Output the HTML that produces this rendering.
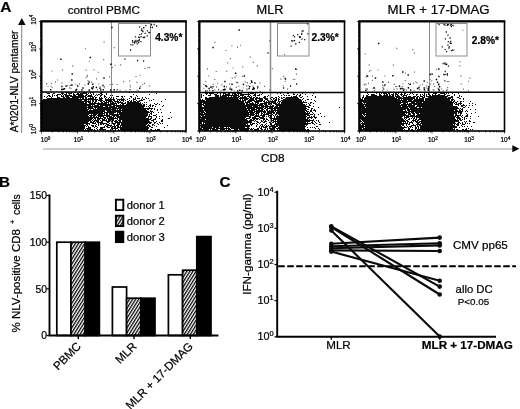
<!DOCTYPE html>
<html lang="en"><head><meta charset="utf-8"><title>Figure</title>
<style>html,body{margin:0;padding:0;background:#fff}body{width:520px;height:409px;overflow:hidden}svg{display:block;font-family:'Liberation Sans', Arial, Helvetica, sans-serif;fill:#000}text{stroke:#000;stroke-width:.22px}</style></head><body>
<svg width="520" height="409" viewBox="0 0 520 409">
<defs><pattern id="hatch" width="2.6" height="2.6" patternUnits="userSpaceOnUse" patternTransform="rotate(-58)"><rect width="2.6" height="2.6" fill="#fff"/><rect width="2.6" height="1.25" fill="#000"/></pattern></defs>
<rect width="520" height="409" fill="#fff"/>
<text x="0.3" y="11.5" font-size="15.5" font-weight="bold">A</text>
<line x1="21.7" y1="24" x2="21.7" y2="133" stroke="#777" stroke-width="0.9"/>
<path d="M18.1 25L25.6 25L21.8 18Z" fill="#0a0a0a"/>
<text x="17.6" y="132.3" font-size="10.2" transform="rotate(-90 17.6 132.3)">A*0201-NLV pentamer</text>
<line x1="43" y1="149" x2="513" y2="149" stroke="#9a9a9a" stroke-width="1.1"/>
<path d="M512.3 145.2L512.3 152.2L519.4 148.7Z" fill="#000"/>
<text x="272.8" y="162.3" font-size="11.8" text-anchor="middle">CD8</text>
<text x="103.8" y="13.9" font-size="11.7" text-anchor="middle">control PBMC</text>
<line x1="111.5" y1="21.5" x2="111.5" y2="131.0" stroke="#8c8c8c" stroke-width="1"/>
<rect x="118.5" y="23.5" width="32.0" height="32.5" fill="none" stroke="#8c8c8c" stroke-width="1"/>
<path d="M46 92.5h1M51 92.5h1M62 92.5h1M65 92.5h4M71 92.5h1M74 92.5h2M79 92.5h1M83 92.5h2M86 92.5h1M90 92.5h1M92 92.5h1M101 92.5h2M129 92.5h1M47 93.5h3M53 93.5h2M61 93.5h3M66 93.5h1M68 93.5h4M73 93.5h1M77 93.5h2M80 93.5h7M88 93.5h1M90 93.5h1M93 93.5h1M100 93.5h2M106 93.5h1M156 93.5h1M52 94.5h1M57 94.5h4M62 94.5h1M64 94.5h3M69 94.5h1M73 94.5h2M76 94.5h7M86 94.5h2M91 94.5h1M93 94.5h1M96 94.5h1M98 94.5h2M101 94.5h2M106 94.5h1M133 94.5h1M149 94.5h1M48 95.5h2M52 95.5h1M54 95.5h1M56 95.5h2M61 95.5h1M63 95.5h1M65 95.5h7M73 95.5h3M78 95.5h6M85 95.5h2M88 95.5h4M95 95.5h1M97 95.5h1M100 95.5h2M104 95.5h1M110 95.5h1M112 95.5h1M136 95.5h1M44 96.5h1M47 96.5h1M49 96.5h2M52 96.5h1M57 96.5h1M61 96.5h3M65 96.5h4M70 96.5h16M87 96.5h6M94 96.5h1M100 96.5h1M104 96.5h2M116 96.5h3M121 96.5h2M124 96.5h1M130 96.5h2M137 96.5h1M46 97.5h1M51 97.5h1M57 97.5h3M63 97.5h2M66 97.5h4M72 97.5h12M85 97.5h2M90 97.5h1M92 97.5h2M95 97.5h2M99 97.5h1M101 97.5h1M104 97.5h1M106 97.5h1M109 97.5h1M111 97.5h1M113 97.5h1M122 97.5h1M131 97.5h1M135 97.5h1M142 97.5h1M145 97.5h1M47 98.5h32M80 98.5h1M82 98.5h2M85 98.5h2M88 98.5h6M95 98.5h1M99 98.5h4M105 98.5h1M108 98.5h1M110 98.5h1M113 98.5h1M116 98.5h1M121 98.5h1M123 98.5h1M129 98.5h1M133 98.5h1M135 98.5h1M137 98.5h3M142 98.5h1M146 98.5h1M148 98.5h1M43 99.5h55M99 99.5h3M105 99.5h10M117 99.5h8M127 99.5h1M133 99.5h3M141 99.5h1M143 99.5h2M153 99.5h1M165 99.5h1M42 100.5h40M84 100.5h3M88 100.5h1M90 100.5h1M92 100.5h2M95 100.5h2M98 100.5h5M105 100.5h7M113 100.5h2M117 100.5h1M119 100.5h1M121 100.5h3M125 100.5h1M129 100.5h1M131 100.5h1M133 100.5h1M136 100.5h1M139 100.5h4M149 100.5h1M151 100.5h1M42 101.5h49M92 101.5h2M95 101.5h2M100 101.5h2M103 101.5h2M106 101.5h1M108 101.5h5M114 101.5h5M120 101.5h1M123 101.5h1M127 101.5h2M130 101.5h2M133 101.5h3M137 101.5h3M161 101.5h1M42 102.5h42M85 102.5h2M88 102.5h3M92 102.5h1M94 102.5h2M98 102.5h1M101 102.5h2M104 102.5h5M110 102.5h1M112 102.5h2M115 102.5h1M117 102.5h6M125 102.5h1M127 102.5h12M140 102.5h1M144 102.5h1M146 102.5h1M42 103.5h45M89 103.5h18M108 103.5h1M110 103.5h7M118 103.5h1M121 103.5h5M127 103.5h14M142 103.5h1M154 103.5h1M157 103.5h1M42 104.5h53M97 104.5h18M116 104.5h1M120 104.5h1M122 104.5h2M126 104.5h16M143 104.5h2M146 104.5h1M150 104.5h1M155 104.5h2M159 104.5h1M42 105.5h49M92 105.5h1M94 105.5h5M100 105.5h11M113 105.5h32M149 105.5h2M152 105.5h2M163 105.5h1M42 106.5h45M88 106.5h15M105 106.5h3M109 106.5h6M116 106.5h29M146 106.5h1M148 106.5h1M150 106.5h1M152 106.5h1M155 106.5h1M162 106.5h1M42 107.5h51M94 107.5h23M118 107.5h26M149 107.5h1M42 108.5h45M88 108.5h6M95 108.5h1M97 108.5h14M112 108.5h41M154 108.5h1M42 109.5h47M90 109.5h1M93 109.5h23M117 109.5h1M119 109.5h2M122 109.5h24M147 109.5h2M151 109.5h1M154 109.5h1M157 109.5h1M160 109.5h1M42 110.5h46M89 110.5h16M106 110.5h5M112 110.5h35M150 110.5h1M157 110.5h1M42 111.5h63M107 111.5h14M122 111.5h27M150 111.5h3M42 112.5h61M104 112.5h12M117 112.5h33M151 112.5h1M153 112.5h1M158 112.5h1M161 112.5h1M170 112.5h1M42 113.5h63M106 113.5h2M109 113.5h5M117 113.5h1M119 113.5h29M150 113.5h2M42 114.5h47M91 114.5h1M93 114.5h4M98 114.5h5M104 114.5h1M106 114.5h2M109 114.5h39M149 114.5h1M151 114.5h1M156 114.5h1M42 115.5h46M89 115.5h7M97 115.5h13M112 115.5h7M120 115.5h28M149 115.5h1M153 115.5h3M42 116.5h47M90 116.5h2M93 116.5h2M96 116.5h1M98 116.5h6M106 116.5h6M113 116.5h2M116 116.5h31M148 116.5h4M156 116.5h1M159 116.5h1M162 116.5h1M42 117.5h57M100 117.5h1M103 117.5h3M107 117.5h1M109 117.5h5M115 117.5h1M117 117.5h29M148 117.5h1M151 117.5h1M156 117.5h1M171 117.5h1M42 118.5h51M94 118.5h2M97 118.5h6M104 118.5h2M107 118.5h11M119 118.5h30M150 118.5h2M155 118.5h1M159 118.5h1M168 118.5h2M42 119.5h50M93 119.5h1M95 119.5h1M97 119.5h3M102 119.5h3M106 119.5h1M108 119.5h6M117 119.5h1M119 119.5h32M153 119.5h3M162 119.5h1M42 120.5h49M92 120.5h1M94 120.5h5M100 120.5h1M102 120.5h5M108 120.5h3M112 120.5h2M115 120.5h2M118 120.5h3M122 120.5h27M151 120.5h3M161 120.5h2M42 121.5h47M90 121.5h2M93 121.5h2M96 121.5h3M101 121.5h2M106 121.5h4M111 121.5h2M114 121.5h4M119 121.5h2M122 121.5h28M153 121.5h1M156 121.5h1M161 121.5h2M42 122.5h46M90 122.5h4M95 122.5h1M97 122.5h6M107 122.5h2M112 122.5h1M115 122.5h37M154 122.5h2M159 122.5h1M42 123.5h48M92 123.5h4M98 123.5h1M100 123.5h7M109 123.5h1M112 123.5h4M117 123.5h3M121 123.5h27M149 123.5h2M154 123.5h1M157 123.5h1M160 123.5h1M162 123.5h1M42 124.5h42M86 124.5h2M89 124.5h1M96 124.5h1M98 124.5h1M100 124.5h2M103 124.5h1M106 124.5h3M113 124.5h2M117 124.5h3M121 124.5h26M148 124.5h1M152 124.5h2M158 124.5h1M42 125.5h44M87 125.5h1M91 125.5h3M95 125.5h1M98 125.5h1M105 125.5h1M107 125.5h5M114 125.5h1M116 125.5h3M120 125.5h26M147 125.5h3M152 125.5h1M154 125.5h1M167 125.5h1M42 126.5h43M86 126.5h1M88 126.5h1M92 126.5h2M95 126.5h2M104 126.5h1M106 126.5h2M110 126.5h1M112 126.5h4M117 126.5h2M120 126.5h1M122 126.5h26M149 126.5h2M156 126.5h1M42 127.5h43M88 127.5h3M94 127.5h1M97 127.5h1M100 127.5h5M107 127.5h3M111 127.5h2M114 127.5h2M117 127.5h32M151 127.5h2M164 127.5h1M42 128.5h43M86 128.5h5M96 128.5h1M100 128.5h3M111 128.5h7M120 128.5h29M42 129.5h42M85 129.5h1M87 129.5h6M94 129.5h1M97 129.5h1M99 129.5h7M110 129.5h1M112 129.5h1M115 129.5h1M118 129.5h1M120 129.5h28M150 129.5h2M155 129.5h1M157 129.5h3M42 130.5h50M93 130.5h3M97 130.5h1M100 130.5h1M103 130.5h1M107 130.5h2M110 130.5h2M113 130.5h3M118 130.5h2M121 130.5h27M151 130.5h9" stroke="#0c0c0c" stroke-width="1" fill="none" shape-rendering="crispEdges"/>
<path d="M129.7 85.2h1M99.6 86.8h1M51.6 87.5h1M88.5 89.7h1M51.1 83.5h1M91.2 82.3h1M139.4 75.2h1M86.8 76.4h1M116.4 89.9h1M103.8 86.5h1M137.5 90.2h1M116.6 84.5h1M69.6 85.6h1M136.7 90.2h1M119.6 90.5h1M98.3 84.0h1M67.1 85.6h1M129.8 86.9h1M61.5 82.9h1M92.6 87.9h1M70.5 88.3h1M129.2 81.1h1M47.5 86.5h1M54.9 81.8h1M84.3 85.0h1M87.5 80.6h1M103.8 87.7h1M123.1 81.6h1M117.2 89.6h1M69.1 87.8h1M57.1 80.0h1M112.1 84.1h1M129.0 89.7h1M86.6 75.2h1M85.6 70.1h1M109.7 84.5h1M149.1 67.4h1M130.1 89.7h1M120.1 64.8h1M87.7 84.2h1M95.9 78.9h1M79.0 83.9h1M46.1 83.8h1M111.7 67.4h1M142.1 84.7h1M148.8 85.8h1M139.9 86.4h1M92.2 88.0h1M61.9 69.8h1M75.4 84.2h1M109.1 76.9h1M144.5 68.4h1M97.0 89.8h1M46.3 83.5h1M147.4 67.9h1M97.8 72.2h1M143.9 83.4h1M136.5 82.3h1M113.7 47.6h1M103.2 59.6h1M125.5 90.2h1M50.5 86.2h1M70.4 85.3h1M51.6 71.0h1M114.5 65.2h1M85.8 77.5h1M93.5 69.9h1M135.5 76.5h1M88.8 61.2h1M84.9 48.7h1M72.3 65.8h1M103.6 42.1h1" stroke="#5a5a5a" stroke-width="1.15" fill="none"/>
<path d="M91.0 88.1h1.4M88.7 90.3h1.4M62.5 89.2h1.4M87.7 83.7h1.4M61.2 86.5h1.4M88.5 82.1h1.4M102.3 85.5h1.4M92.7 86.8h1.4M95.7 87.6h1.4M92.1 84.3h1.4M71.1 80.0h1.4M103.3 77.9h1.4M77.0 86.0h1.4M75.2 90.3h1.4M61.0 89.5h1.4M110.0 90.0h1.4M100.0 90.0h1.4M63.8 88.8h1.4M99.3 88.3h1.4M91.8 88.7h1.4M75.9 89.4h1.4M113.5 89.8h1.4M102.5 89.8h1.4M71.2 85.0h1.4M65.4 86.0h1.4M81.2 90.0h1.4M50.0 89.8h1.4M71.5 74.0h1.4M110.2 64.2h1.4M139.0 88.2h1.4M111.2 27.5h1.4M60.2 59.3h1.4M89.6 57.5h1.4M82.3 88.1h1.4" stroke="#000" stroke-width="1.5" fill="none"/>
<path d="M146.7 35.9h1.2M150.0 27.3h1.2M141.1 28.8h1.2M139.0 26.8h1.2M145.2 25.7h1.2M137.3 40.7h1.2M142.1 31.0h1.2M143.4 37.5h1.2M143.3 27.8h1.2M138.5 40.9h1.2M132.1 42.1h1.2M138.0 37.1h1.2M142.6 37.3h1.2M148.3 32.6h1.2M138.7 39.7h1.2M140.3 41.7h1.2M132.2 44.9h1.2M142.3 31.6h1.2M150.9 24.5h1.2M139.0 37.7h1.2M136.4 41.8h1.2M140.5 36.6h1.2M130.0 50.0h1.2M139.2 34.7h1.2M143.0 27.7h1.2M136.6 43.9h1.2M133.9 43.2h1.2M138.0 42.6h1.2M135.5 41.9h1.2M144.5 33.3h1.2M131.9 40.7h1.2M133.7 42.3h1.2M124.3 59.2h1.2M146.9 30.8h1.2M150.6 24.9h1.2M134.2 41.5h1.2M135.3 40.4h1.2M140.9 33.9h1.2M144.1 37.2h1.2M149.2 32.5h1.2M140.9 30.4h1.2M134.9 36.9h1.2M130.3 44.7h1.2M153.5 24.5h1.2M156.0 26.0h1.2M151.8 27.5h1.2M137.0 60.5h1.2M143.0 61.0h1.2" stroke="#111" stroke-width="1.3" fill="none"/>
<line x1="41.5" y1="92" x2="186.0" y2="92" stroke="#000" stroke-width="1.5"/>
<rect x="41.5" y="21.5" width="144.5" height="109.5" fill="none" stroke="#000" stroke-width="1.6"/>
<path d="M41.5 131.0v2.4M41.5 131.0h-2.4M52.4 131.0v1.4M41.5 122.8h-1.4M58.7 131.0v1.4M41.5 117.9h-1.4M63.2 131.0v1.4M41.5 114.5h-1.4M66.8 131.0v1.4M41.5 111.9h-1.4M69.6 131.0v1.4M41.5 109.7h-1.4M72.0 131.0v1.4M41.5 107.9h-1.4M74.1 131.0v1.4M41.5 106.3h-1.4M76.0 131.0v1.4M41.5 104.9h-1.4M77.6 131.0v2.4M41.5 103.6h-2.4M88.5 131.0v1.4M41.5 95.4h-1.4M94.9 131.0v1.4M41.5 90.6h-1.4M99.4 131.0v1.4M41.5 87.1h-1.4M102.9 131.0v1.4M41.5 84.5h-1.4M105.7 131.0v1.4M41.5 82.3h-1.4M108.2 131.0v1.4M41.5 80.5h-1.4M110.2 131.0v1.4M41.5 78.9h-1.4M112.1 131.0v1.4M41.5 77.5h-1.4M113.8 131.0v2.4M41.5 76.2h-2.4M124.6 131.0v1.4M41.5 68.0h-1.4M131.0 131.0v1.4M41.5 63.2h-1.4M135.5 131.0v1.4M41.5 59.8h-1.4M139.0 131.0v1.4M41.5 57.1h-1.4M141.9 131.0v1.4M41.5 54.9h-1.4M144.3 131.0v1.4M41.5 53.1h-1.4M146.4 131.0v1.4M41.5 51.5h-1.4M148.2 131.0v1.4M41.5 50.1h-1.4M149.9 131.0v2.4M41.5 48.9h-2.4M160.7 131.0v1.4M41.5 40.6h-1.4M167.1 131.0v1.4M41.5 35.8h-1.4M171.6 131.0v1.4M41.5 32.4h-1.4M175.1 131.0v1.4M41.5 29.7h-1.4M178.0 131.0v1.4M41.5 27.6h-1.4M180.4 131.0v1.4M41.5 25.7h-1.4M182.5 131.0v1.4M41.5 24.2h-1.4M184.3 131.0v1.4M41.5 22.8h-1.4M186.0 131.0v2.4M41.5 21.5h-2.4" stroke="#000" stroke-width="0.8" fill="none"/>
<path d="M41.3 131.6V21.3H186.8" stroke="#000" stroke-width="2" fill="none"/>
<text x="155.2" y="41" font-size="10.2" font-weight="bold">4.3%*</text>
<text x="45.5" y="142.2" font-size="6.4" text-anchor="middle">10<tspan dy="-2.6" font-size="4.608">0</tspan></text>
<text x="35.9" y="134.2" font-size="6.6" text-anchor="start" transform="rotate(-90 35.9 134.2)">10<tspan dy="-2.6" font-size="4.752">0</tspan></text>
<text x="78.5" y="142.2" font-size="6.4" text-anchor="middle">10<tspan dy="-2.6" font-size="4.608">1</tspan></text>
<text x="35.9" y="106.8" font-size="6.6" text-anchor="start" transform="rotate(-90 35.9 106.8)">10<tspan dy="-2.6" font-size="4.752">1</tspan></text>
<text x="114.7" y="142.2" font-size="6.4" text-anchor="middle">10<tspan dy="-2.6" font-size="4.608">2</tspan></text>
<text x="35.9" y="79.5" font-size="6.6" text-anchor="start" transform="rotate(-90 35.9 79.5)">10<tspan dy="-2.6" font-size="4.752">2</tspan></text>
<text x="150.8" y="142.2" font-size="6.4" text-anchor="middle">10<tspan dy="-2.6" font-size="4.608">3</tspan></text>
<text x="35.9" y="52.1" font-size="6.6" text-anchor="start" transform="rotate(-90 35.9 52.1)">10<tspan dy="-2.6" font-size="4.752">3</tspan></text>
<text x="186.9" y="142.2" font-size="6.4" text-anchor="middle">10<tspan dy="-2.6" font-size="4.608">4</tspan></text>
<text x="35.9" y="24.7" font-size="6.6" text-anchor="start" transform="rotate(-90 35.9 24.7)">10<tspan dy="-2.6" font-size="4.752">4</tspan></text>
<text x="270" y="14.3" font-size="12.8" text-anchor="middle">MLR</text>
<line x1="270.5" y1="21.5" x2="270.5" y2="131.0" stroke="#8c8c8c" stroke-width="1.5"/>
<rect x="277.5" y="23.5" width="31.5" height="32.5" fill="none" stroke="#8c8c8c" stroke-width="1"/>
<path d="M205 93.5h3M209 93.5h5M217 93.5h1M220 93.5h1M223 93.5h3M228 93.5h2M232 93.5h4M237 93.5h5M248 93.5h1M250 93.5h4M255 93.5h1M262 93.5h1M277 93.5h1M280 93.5h1M287 93.5h2M293 93.5h1M302 93.5h1M313 93.5h1M201 94.5h1M206 94.5h1M210 94.5h1M214 94.5h3M220 94.5h1M223 94.5h1M225 94.5h5M232 94.5h1M234 94.5h3M238 94.5h1M240 94.5h10M254 94.5h2M259 94.5h1M261 94.5h1M283 94.5h1M293 94.5h2M297 94.5h1M300 94.5h1M305 94.5h1M201 95.5h1M203 95.5h1M208 95.5h3M215 95.5h4M220 95.5h1M222 95.5h17M240 95.5h4M248 95.5h1M250 95.5h1M253 95.5h3M257 95.5h3M268 95.5h1M281 95.5h1M284 95.5h1M286 95.5h1M288 95.5h2M296 95.5h1M299 95.5h2M312 95.5h1M201 96.5h1M215 96.5h4M220 96.5h7M228 96.5h1M231 96.5h1M233 96.5h4M238 96.5h2M242 96.5h1M244 96.5h2M247 96.5h3M251 96.5h1M255 96.5h1M264 96.5h2M267 96.5h1M278 96.5h1M291 96.5h1M293 96.5h4M299 96.5h1M302 96.5h1M307 96.5h1M315 96.5h1M201 97.5h1M205 97.5h2M209 97.5h30M240 97.5h7M249 97.5h3M253 97.5h2M256 97.5h2M259 97.5h1M263 97.5h3M271 97.5h2M275 97.5h2M279 97.5h1M281 97.5h1M283 97.5h2M286 97.5h12M300 97.5h2M315 97.5h1M205 98.5h33M239 98.5h10M250 98.5h4M255 98.5h8M264 98.5h4M270 98.5h1M273 98.5h2M276 98.5h1M278 98.5h1M281 98.5h2M285 98.5h14M303 98.5h1M200 99.5h1M202 99.5h1M205 99.5h34M240 99.5h1M242 99.5h1M244 99.5h4M249 99.5h5M255 99.5h2M259 99.5h4M265 99.5h3M271 99.5h1M273 99.5h1M275 99.5h2M278 99.5h2M283 99.5h18M302 99.5h1M307 99.5h2M311 99.5h1M200 100.5h5M206 100.5h35M242 100.5h4M248 100.5h7M256 100.5h7M264 100.5h1M267 100.5h2M272 100.5h1M274 100.5h3M278 100.5h1M281 100.5h21M305 100.5h1M314 100.5h1M200 101.5h44M245 101.5h1M247 101.5h5M254 101.5h8M263 101.5h2M266 101.5h1M268 101.5h8M278 101.5h3M282 101.5h20M303 101.5h1M315 101.5h1M200 102.5h44M245 102.5h5M252 102.5h1M255 102.5h4M264 102.5h6M271 102.5h5M277 102.5h1M279 102.5h1M281 102.5h26M310 102.5h2M200 103.5h2M203 103.5h42M246 103.5h2M249 103.5h5M255 103.5h1M257 103.5h2M260 103.5h7M268 103.5h4M273 103.5h4M278 103.5h2M281 103.5h22M308 103.5h1M310 103.5h1M313 103.5h1M200 104.5h4M205 104.5h40M246 104.5h12M259 104.5h4M264 104.5h3M268 104.5h2M271 104.5h1M275 104.5h30M306 104.5h1M309 104.5h1M200 105.5h2M203 105.5h61M265 105.5h3M270 105.5h1M272 105.5h2M276 105.5h30M309 105.5h2M200 106.5h2M204 106.5h48M253 106.5h5M259 106.5h1M261 106.5h13M275 106.5h3M279 106.5h30M313 106.5h1M200 107.5h46M247 107.5h17M265 107.5h3M269 107.5h4M274 107.5h32M308 107.5h2M318 107.5h1M339 107.5h1M200 108.5h55M256 108.5h7M264 108.5h2M267 108.5h40M311 108.5h2M200 109.5h3M204 109.5h43M248 109.5h2M251 109.5h6M258 109.5h2M261 109.5h3M266 109.5h2M271 109.5h2M274 109.5h2M277 109.5h29M307 109.5h2M311 109.5h1M314 109.5h1M200 110.5h55M256 110.5h7M264 110.5h1M266 110.5h2M269 110.5h1M271 110.5h36M310 110.5h2M313 110.5h3M200 111.5h4M205 111.5h43M249 111.5h4M254 111.5h12M267 111.5h7M275 111.5h1M277 111.5h28M306 111.5h3M310 111.5h2M315 111.5h1M201 112.5h4M206 112.5h49M256 112.5h4M261 112.5h1M263 112.5h3M267 112.5h8M276 112.5h30M307 112.5h1M309 112.5h1M312 112.5h1M200 113.5h3M204 113.5h45M250 113.5h4M255 113.5h4M261 113.5h2M264 113.5h1M266 113.5h6M273 113.5h2M276 113.5h34M313 113.5h1M320 113.5h1M200 114.5h55M256 114.5h1M258 114.5h1M261 114.5h1M263 114.5h6M271 114.5h2M275 114.5h2M278 114.5h31M310 114.5h3M314 114.5h1M318 114.5h1M201 115.5h3M205 115.5h44M250 115.5h4M255 115.5h4M260 115.5h5M268 115.5h4M273 115.5h1M275 115.5h1M277 115.5h1M279 115.5h27M307 115.5h3M314 115.5h1M200 116.5h1M202 116.5h49M254 116.5h6M262 116.5h3M266 116.5h1M268 116.5h1M270 116.5h2M274 116.5h1M276 116.5h31M309 116.5h1M311 116.5h1M313 116.5h2M321 116.5h1M324 116.5h1M200 117.5h46M249 117.5h2M252 117.5h4M259 117.5h5M269 117.5h3M274 117.5h1M276 117.5h30M307 117.5h6M314 117.5h3M201 118.5h44M246 118.5h4M252 118.5h7M260 118.5h5M266 118.5h1M270 118.5h36M307 118.5h2M311 118.5h1M315 118.5h1M200 119.5h5M206 119.5h41M250 119.5h2M253 119.5h2M256 119.5h2M259 119.5h1M263 119.5h2M266 119.5h2M271 119.5h1M273 119.5h35M309 119.5h1M313 119.5h1M200 120.5h48M249 120.5h5M255 120.5h1M261 120.5h1M263 120.5h1M265 120.5h1M268 120.5h1M271 120.5h3M275 120.5h1M277 120.5h37M316 120.5h1M318 120.5h1M200 121.5h52M254 121.5h1M256 121.5h2M261 121.5h2M264 121.5h3M271 121.5h1M273 121.5h37M312 121.5h1M314 121.5h1M318 121.5h1M200 122.5h2M203 122.5h49M257 122.5h2M260 122.5h1M263 122.5h2M269 122.5h2M272 122.5h2M275 122.5h1M277 122.5h29M307 122.5h1M311 122.5h2M315 122.5h1M319 122.5h1M329 122.5h1M200 123.5h2M203 123.5h1M205 123.5h43M250 123.5h1M252 123.5h3M256 123.5h1M259 123.5h1M266 123.5h1M270 123.5h2M275 123.5h36M312 123.5h2M316 123.5h1M201 124.5h45M247 124.5h1M250 124.5h3M257 124.5h1M261 124.5h2M265 124.5h1M270 124.5h2M274 124.5h34M314 124.5h1M319 124.5h2M200 125.5h50M251 125.5h1M256 125.5h1M260 125.5h1M262 125.5h1M264 125.5h1M266 125.5h1M268 125.5h1M271 125.5h4M276 125.5h29M306 125.5h1M201 126.5h49M256 126.5h1M259 126.5h1M261 126.5h3M265 126.5h3M269 126.5h9M279 126.5h27M316 126.5h2M201 127.5h11M213 127.5h6M220 127.5h4M226 127.5h1M228 127.5h1M230 127.5h15M247 127.5h2M259 127.5h1M261 127.5h1M263 127.5h4M269 127.5h1M272 127.5h4M278 127.5h27M307 127.5h1M310 127.5h1M312 127.5h1M314 127.5h1M200 128.5h2M203 128.5h12M216 128.5h14M231 128.5h19M251 128.5h1M253 128.5h1M257 128.5h2M260 128.5h2M265 128.5h1M267 128.5h1M269 128.5h6M276 128.5h29M315 128.5h1M318 128.5h1M200 129.5h9M210 129.5h1M212 129.5h6M220 129.5h5M226 129.5h1M228 129.5h3M234 129.5h4M239 129.5h10M250 129.5h3M254 129.5h5M261 129.5h2M264 129.5h2M267 129.5h1M270 129.5h5M277 129.5h1M279 129.5h27M307 129.5h2M319 129.5h1M200 130.5h1M202 130.5h1M204 130.5h5M210 130.5h9M220 130.5h1M222 130.5h1M225 130.5h4M230 130.5h1M232 130.5h7M240 130.5h9M254 130.5h3M258 130.5h3M264 130.5h1M266 130.5h1M268 130.5h4M273 130.5h2M277 130.5h33M323 130.5h1" stroke="#0c0c0c" stroke-width="1" fill="none" shape-rendering="crispEdges"/>
<path d="M218.1 89.8h1M221.4 84.9h1M205.3 81.5h1M218.1 89.2h1M249.7 83.5h1M257.0 88.6h1M206.9 90.9h1M225.4 50.5h1M246.8 82.6h1M230.7 89.0h1M256.8 65.9h1M210.5 86.8h1M241.9 76.5h1M259.7 91.1h1M214.2 79.5h1M235.5 76.0h1M235.8 87.3h1M217.1 83.2h1M237.4 82.8h1M214.2 89.8h1M223.9 86.3h1M229.7 87.2h1M244.7 81.9h1M203.4 84.5h1M208.3 76.0h1M231.7 78.1h1M215.7 71.5h1M252.5 86.1h1M212.7 84.4h1M211.8 88.5h1M253.2 88.8h1M227.3 62.9h1M226.1 86.9h1M209.3 90.9h1M242.6 88.0h1M259.4 82.8h1M237.0 47.1h1M220.6 90.9h1M216.0 86.8h1M212.0 86.8h1M246.5 88.7h1M223.2 89.6h1M234.4 77.6h1M252.8 62.3h1M238.5 86.2h1M233.7 90.7h1M236.6 82.4h1M246.0 86.1h1M229.1 84.1h1M203.4 88.2h1M295.9 74.1h1M283.3 76.4h1M207.0 68.8h1M264.1 86.3h1M249.6 57.1h1M209.0 90.3h1M213.0 86.6h1M284.9 81.2h1M214.4 42.4h1M287.1 89.1h1M280.3 79.1h1M294.5 79.2h1M282.8 85.7h1M235.9 82.4h1M242.2 66.8h1M226.3 71.4h1M269.1 40.8h1M271.8 68.6h1M247.6 85.7h1M284.0 54.7h1M231.4 45.7h1M232.6 68.0h1M240.1 45.2h1M269.4 89.8h1M292.9 79.5h1M246.5 89.9h1M229.8 58.6h1M246.9 83.0h1" stroke="#5a5a5a" stroke-width="1.15" fill="none"/>
<path d="M223.6 86.6h1.4M224.1 89.8h1.4M252.1 89.2h1.4M243.6 76.1h1.4M231.3 84.3h1.4M205.9 86.4h1.4M229.3 89.0h1.4M205.1 90.9h1.4M231.0 89.7h1.4M222.7 89.8h1.4M224.3 81.6h1.4M248.4 88.6h1.4M205.1 85.7h1.4M230.9 89.4h1.4M234.9 73.3h1.4M241.5 90.7h1.4M257.0 87.0h1.4M237.0 90.9h1.4M252.9 87.7h1.4M208.4 88.5h1.4M239.1 90.2h1.4M249.0 86.6h1.4M254.2 83.1h1.4M210.3 87.3h1.4M253.4 88.8h1.4M212.4 47.4h1.4M251.2 82.3h1.4M224.3 89.3h1.4M212.2 90.8h1.4M238.5 29.9h1.4M242.8 84.4h1.4M250.8 80.9h1.4" stroke="#000" stroke-width="1.5" fill="none"/>
<path d="M292.3 40.8h1.2M301.1 33.4h1.2M298.8 36.7h1.2M297.1 34.6h1.2M299.6 36.8h1.2M301.1 34.4h1.2M292.8 35.6h1.2M294.0 36.9h1.2M302.6 30.9h1.2M299.2 37.4h1.2M307.2 33.8h1.2M291.4 40.9h1.2M293.9 40.6h1.2M304.1 39.7h1.2M299.8 37.1h1.2M295.2 44.0h1.2M290.5 46.1h1.2M301.5 31.2h1.2M306.9 23.9h1.2M298.7 42.3h1.2M301.5 39.1h1.2M291.0 40.9h1.2M295.0 69.0h1.2M295.6 69.4h1.2M284.5 78.5h1.2M285.0 79.0h1.2M267.5 53.0h1.2M290.0 86.0h1.2M296.0 84.0h1.2M283.0 88.0h1.2" stroke="#111" stroke-width="1.3" fill="none"/>
<line x1="199.5" y1="92.6" x2="344.5" y2="92.6" stroke="#000" stroke-width="1.5"/>
<rect x="199.5" y="21.5" width="145.0" height="109.5" fill="none" stroke="#000" stroke-width="1.6"/>
<path d="M199.5 131.0v2.4M199.5 131.0h-2.4M210.4 131.0v1.4M199.5 122.8h-1.4M216.8 131.0v1.4M199.5 117.9h-1.4M221.3 131.0v1.4M199.5 114.5h-1.4M224.8 131.0v1.4M199.5 111.9h-1.4M227.7 131.0v1.4M199.5 109.7h-1.4M230.1 131.0v1.4M199.5 107.9h-1.4M232.2 131.0v1.4M199.5 106.3h-1.4M234.1 131.0v1.4M199.5 104.9h-1.4M235.8 131.0v2.4M199.5 103.6h-2.4M246.7 131.0v1.4M199.5 95.4h-1.4M253.0 131.0v1.4M199.5 90.6h-1.4M257.6 131.0v1.4M199.5 87.1h-1.4M261.1 131.0v1.4M199.5 84.5h-1.4M264.0 131.0v1.4M199.5 82.3h-1.4M266.4 131.0v1.4M199.5 80.5h-1.4M268.5 131.0v1.4M199.5 78.9h-1.4M270.3 131.0v1.4M199.5 77.5h-1.4M272.0 131.0v2.4M199.5 76.2h-2.4M282.9 131.0v1.4M199.5 68.0h-1.4M289.3 131.0v1.4M199.5 63.2h-1.4M293.8 131.0v1.4M199.5 59.8h-1.4M297.3 131.0v1.4M199.5 57.1h-1.4M300.2 131.0v1.4M199.5 54.9h-1.4M302.6 131.0v1.4M199.5 53.1h-1.4M304.7 131.0v1.4M199.5 51.5h-1.4M306.6 131.0v1.4M199.5 50.1h-1.4M308.2 131.0v2.4M199.5 48.9h-2.4M319.2 131.0v1.4M199.5 40.6h-1.4M325.5 131.0v1.4M199.5 35.8h-1.4M330.1 131.0v1.4M199.5 32.4h-1.4M333.6 131.0v1.4M199.5 29.7h-1.4M336.5 131.0v1.4M199.5 27.6h-1.4M338.9 131.0v1.4M199.5 25.7h-1.4M341.0 131.0v1.4M199.5 24.2h-1.4M342.8 131.0v1.4M199.5 22.8h-1.4M344.5 131.0v2.4M199.5 21.5h-2.4" stroke="#000" stroke-width="0.8" fill="none"/>
<path d="M199.3 131.6V21.3H345.3" stroke="#000" stroke-width="2" fill="none"/>
<text x="311.5" y="40.5" font-size="10.2" font-weight="bold">2.3%*</text>
<text x="200.9" y="142.2" font-size="6.4" text-anchor="middle">10<tspan dy="-2.6" font-size="4.608">0</tspan></text>
<text x="236.7" y="142.2" font-size="6.4" text-anchor="middle">10<tspan dy="-2.6" font-size="4.608">1</tspan></text>
<text x="272.9" y="142.2" font-size="6.4" text-anchor="middle">10<tspan dy="-2.6" font-size="4.608">2</tspan></text>
<text x="309.1" y="142.2" font-size="6.4" text-anchor="middle">10<tspan dy="-2.6" font-size="4.608">3</tspan></text>
<text x="345.4" y="142.2" font-size="6.4" text-anchor="middle">10<tspan dy="-2.6" font-size="4.608">4</tspan></text>
<text x="438.6" y="13.6" font-size="13.25" text-anchor="middle">MLR + 17-DMAG</text>
<line x1="429.5" y1="21.5" x2="429.5" y2="131.0" stroke="#8c8c8c" stroke-width="1"/>
<rect x="436" y="23.5" width="31" height="32.5" fill="none" stroke="#8c8c8c" stroke-width="1"/>
<path d="M364 92.5h1M367 92.5h2M372 92.5h1M380 92.5h1M382 92.5h4M387 92.5h3M392 92.5h2M401 92.5h4M421 92.5h2M425 92.5h1M427 92.5h2M430 92.5h1M432 92.5h2M435 92.5h1M438 92.5h1M446 92.5h1M367 93.5h1M376 93.5h1M379 93.5h1M381 93.5h1M383 93.5h4M388 93.5h2M393 93.5h1M395 93.5h2M398 93.5h1M401 93.5h1M404 93.5h2M410 93.5h1M412 93.5h1M424 93.5h1M428 93.5h1M433 93.5h4M440 93.5h5M446 93.5h1M448 93.5h1M452 93.5h1M458 93.5h1M368 94.5h1M371 94.5h4M379 94.5h2M384 94.5h1M386 94.5h2M389 94.5h1M391 94.5h3M395 94.5h3M400 94.5h3M404 94.5h1M407 94.5h1M409 94.5h1M413 94.5h1M416 94.5h2M420 94.5h1M422 94.5h1M424 94.5h1M426 94.5h1M428 94.5h2M432 94.5h1M435 94.5h1M438 94.5h2M444 94.5h2M454 94.5h1M363 95.5h1M366 95.5h2M371 95.5h6M379 95.5h3M383 95.5h5M389 95.5h2M392 95.5h2M395 95.5h1M397 95.5h2M401 95.5h1M403 95.5h4M416 95.5h1M420 95.5h1M423 95.5h2M426 95.5h1M429 95.5h2M432 95.5h13M447 95.5h3M454 95.5h1M459 95.5h1M363 96.5h1M366 96.5h28M395 96.5h5M402 96.5h2M406 96.5h1M408 96.5h3M413 96.5h3M417 96.5h2M420 96.5h3M424 96.5h1M426 96.5h22M451 96.5h2M459 96.5h1M461 96.5h1M362 97.5h2M365 97.5h30M396 97.5h6M403 97.5h12M416 97.5h2M419 97.5h1M422 97.5h3M428 97.5h19M448 97.5h5M457 97.5h2M360 98.5h1M362 98.5h1M364 98.5h33M398 98.5h17M416 98.5h2M419 98.5h5M425 98.5h26M452 98.5h1M459 98.5h2M463 98.5h1M360 99.5h3M364 99.5h36M401 99.5h1M403 99.5h10M414 99.5h10M425 99.5h25M451 99.5h3M463 99.5h1M360 100.5h47M408 100.5h4M413 100.5h11M425 100.5h25M451 100.5h2M454 100.5h1M360 101.5h41M402 101.5h50M453 101.5h2M457 101.5h1M460 101.5h2M463 101.5h1M470 101.5h1M360 102.5h2M363 102.5h45M411 102.5h4M416 102.5h6M423 102.5h31M455 102.5h2M460 102.5h1M360 103.5h3M364 103.5h1M366 103.5h35M403 103.5h3M407 103.5h1M409 103.5h44M454 103.5h1M456 103.5h1M458 103.5h4M469 103.5h1M472 103.5h1M360 104.5h40M401 104.5h11M413 104.5h40M455 104.5h4M460 104.5h1M463 104.5h1M475 104.5h1M360 105.5h4M365 105.5h42M408 105.5h7M417 105.5h36M458 105.5h1M461 105.5h4M466 105.5h1M469 105.5h1M472 105.5h1M360 106.5h41M402 106.5h13M416 106.5h41M461 106.5h2M465 106.5h1M360 107.5h5M366 107.5h42M409 107.5h8M419 107.5h2M422 107.5h36M463 107.5h2M468 107.5h1M360 108.5h49M410 108.5h49M460 108.5h1M462 108.5h1M360 109.5h46M407 109.5h50M459 109.5h1M461 109.5h2M470 109.5h1M475 109.5h1M360 110.5h43M405 110.5h1M407 110.5h3M411 110.5h43M455 110.5h3M459 110.5h2M462 110.5h1M466 110.5h1M360 111.5h47M408 111.5h55M465 111.5h1M467 111.5h1M360 112.5h50M411 112.5h3M415 112.5h42M458 112.5h4M475 112.5h1M360 113.5h5M366 113.5h39M406 113.5h1M408 113.5h3M412 113.5h3M416 113.5h3M420 113.5h37M458 113.5h1M460 113.5h2M466 113.5h1M471 113.5h1M360 114.5h2M363 114.5h43M408 114.5h3M413 114.5h2M417 114.5h37M455 114.5h2M460 114.5h1M467 114.5h1M360 115.5h3M364 115.5h1M366 115.5h43M410 115.5h5M416 115.5h38M455 115.5h6M462 115.5h1M466 115.5h2M360 116.5h4M365 116.5h38M404 116.5h1M406 116.5h50M457 116.5h2M461 116.5h1M465 116.5h3M470 116.5h1M478 116.5h1M360 117.5h42M404 117.5h5M412 117.5h1M414 117.5h1M416 117.5h39M456 117.5h4M462 117.5h1M464 117.5h1M360 118.5h43M404 118.5h1M406 118.5h1M409 118.5h1M411 118.5h1M413 118.5h2M416 118.5h1M419 118.5h36M457 118.5h4M464 118.5h1M466 118.5h1M470 118.5h1M361 119.5h43M405 119.5h1M408 119.5h2M413 119.5h1M415 119.5h2M418 119.5h38M457 119.5h1M459 119.5h2M462 119.5h1M464 119.5h1M360 120.5h1M362 120.5h43M406 120.5h2M412 120.5h4M417 120.5h2M421 120.5h38M460 120.5h2M469 120.5h1M360 121.5h2M363 121.5h43M407 121.5h2M411 121.5h1M413 121.5h1M415 121.5h3M419 121.5h40M464 121.5h1M466 121.5h1M469 121.5h2M362 122.5h1M364 122.5h38M403 122.5h1M405 122.5h1M407 122.5h1M409 122.5h4M416 122.5h4M421 122.5h34M458 122.5h2M462 122.5h1M465 122.5h1M473 122.5h2M361 123.5h47M409 123.5h1M412 123.5h1M417 123.5h2M420 123.5h36M457 123.5h2M460 123.5h1M462 123.5h1M465 123.5h1M467 123.5h1M469 123.5h1M360 124.5h1M362 124.5h42M406 124.5h1M408 124.5h2M413 124.5h1M416 124.5h5M422 124.5h31M454 124.5h1M456 124.5h3M462 124.5h3M360 125.5h4M365 125.5h36M402 125.5h2M406 125.5h1M411 125.5h5M417 125.5h1M419 125.5h36M457 125.5h2M461 125.5h1M360 126.5h42M404 126.5h1M407 126.5h1M409 126.5h3M415 126.5h1M417 126.5h2M420 126.5h37M462 126.5h1M464 126.5h1M467 126.5h1M471 126.5h1M360 127.5h4M365 127.5h42M408 127.5h1M410 127.5h1M412 127.5h1M415 127.5h2M418 127.5h1M420 127.5h37M459 127.5h1M360 128.5h2M363 128.5h41M408 128.5h2M415 128.5h2M418 128.5h1M420 128.5h33M454 128.5h1M466 128.5h1M468 128.5h1M360 129.5h43M404 129.5h1M408 129.5h2M411 129.5h2M415 129.5h1M417 129.5h38M456 129.5h2M462 129.5h2M465 129.5h2M470 129.5h1M472 129.5h1M360 130.5h3M364 130.5h40M405 130.5h4M410 130.5h5M416 130.5h4M421 130.5h32M454 130.5h1M457 130.5h4M463 130.5h6" stroke="#0c0c0c" stroke-width="1" fill="none" shape-rendering="crispEdges"/>
<path d="M415.3 81.7h1M393.8 84.5h1M374.3 88.7h1M366.5 89.9h1M370.3 70.5h1M426.7 82.5h1M432.5 89.7h1M393.6 84.2h1M437.4 88.2h1M373.9 90.5h1M366.1 75.3h1M440.8 89.0h1M433.5 90.1h1M435.7 69.3h1M404.2 89.4h1M382.1 85.3h1M386.7 90.0h1M430.1 84.1h1M408.0 83.6h1M372.6 88.5h1M448.2 81.5h1M416.5 82.6h1M383.4 89.1h1M413.8 90.6h1M365.4 84.1h1M414.0 72.0h1M402.4 83.7h1M446.1 90.2h1M404.9 73.1h1M366.8 88.9h1M363.7 84.2h1M396.0 86.5h1M401.8 86.6h1M438.2 85.4h1M371.8 80.4h1M365.6 77.1h1M395.1 86.7h1M426.3 85.9h1M446.7 89.8h1M434.3 86.3h1M396.5 88.8h1M365.4 88.8h1M367.9 83.3h1M398.9 86.0h1M429.5 79.4h1M424.5 90.7h1M425.7 88.0h1M364.1 84.9h1M418.4 88.9h1M433.1 84.1h1M431.2 80.8h1M446.1 90.4h1M419.3 89.8h1M442.6 90.6h1M388.0 82.3h1M382.4 90.3h1M393.5 89.3h1M408.1 87.9h1M364.7 54.0h1M460.4 75.9h1M446.8 81.5h1M371.9 75.8h1M396.3 48.4h1M469.4 78.1h1M414.0 53.0h1M404.8 80.6h1M467.9 81.2h1M459.4 61.8h1M413.2 83.3h1M412.3 49.6h1M447.2 87.6h1M468.0 90.7h1M459.3 65.9h1M384.4 76.0h1M409.3 84.5h1M383.5 86.1h1M460.7 83.8h1M462.3 30.2h1M377.4 70.0h1M382.8 88.6h1M427.6 90.4h1M368.6 64.8h1M382.4 87.5h1M392.8 65.1h1M422.0 84.2h1M453.5 50.1h1M462.9 89.1h1M369.0 71.2h1M405.8 90.1h1M419.7 85.2h1" stroke="#5a5a5a" stroke-width="1.15" fill="none"/>
<path d="M382.1 82.1h1.4M423.7 89.7h1.4M418.3 87.6h1.4M435.8 79.5h1.4M402.9 90.5h1.4M402.2 88.8h1.4M427.7 90.0h1.4M407.7 87.8h1.4M438.0 89.2h1.4M410.0 90.1h1.4M373.3 87.8h1.4M438.6 90.4h1.4M398.8 86.2h1.4M366.8 76.3h1.4M402.1 72.1h1.4M431.4 74.1h1.4M384.2 85.1h1.4M438.9 86.8h1.4M374.8 77.9h1.4M365.1 90.6h1.4M399.8 88.7h1.4M428.1 86.7h1.4M416.8 88.4h1.4M423.5 87.9h1.4M436.8 82.3h1.4M438.0 84.2h1.4M427.6 88.6h1.4M438.2 76.5h1.4M400.4 88.4h1.4M438.1 69.0h1.4M378.0 43.6h1.4M429.5 74.4h1.4M407.5 74.9h1.4M409.6 84.2h1.4M423.5 81.0h1.4M392.2 75.8h1.4" stroke="#000" stroke-width="1.5" fill="none"/>
<path d="M449.6 42.9h1.2M447.4 35.2h1.2M450.6 43.4h1.2M444.8 38.9h1.2M446.0 51.6h1.2M449.5 38.0h1.2M452.1 50.0h1.2M445.7 32.0h1.2M450.1 41.3h1.2M447.7 41.6h1.2M450.8 50.7h1.2M449.8 43.3h1.2M448.6 46.8h1.2M444.5 49.6h1.2M447.3 45.2h1.2M448.3 48.1h1.2M450.8 26.5h1.2M444.4 25.2h1.2M446.7 24.9h1.2M449.9 25.1h1.2M446.7 25.3h1.2M450.7 24.5h1.2M452.5 25.6h1.2M438.5 24.7h1.2M446.9 24.6h1.2M443.3 24.4h1.2M447.9 24.6h1.2M452.3 25.3h1.2M442.6 63.5h1.2M446.3 64.1h1.2M444.5 74.6h1.2M446.8 75.0h1.2M447.9 66.2h1.2M445.8 64.4h1.2M444.6 71.5h1.2M441.7 46.9h1.2M446.6 73.6h1.2M444.5 64.1h1.2M443.2 74.5h1.2M444.2 80.8h1.2M444.4 63.0h1.2M445.7 64.7h1.2" stroke="#111" stroke-width="1.3" fill="none"/>
<line x1="359.5" y1="92.3" x2="504.5" y2="92.3" stroke="#000" stroke-width="1.5"/>
<rect x="359.5" y="21.5" width="145.0" height="109.5" fill="none" stroke="#000" stroke-width="1.6"/>
<path d="M359.5 131.0v2.4M359.5 131.0h-2.4M370.4 131.0v1.4M359.5 122.8h-1.4M376.8 131.0v1.4M359.5 117.9h-1.4M381.3 131.0v1.4M359.5 114.5h-1.4M384.8 131.0v1.4M359.5 111.9h-1.4M387.7 131.0v1.4M359.5 109.7h-1.4M390.1 131.0v1.4M359.5 107.9h-1.4M392.2 131.0v1.4M359.5 106.3h-1.4M394.1 131.0v1.4M359.5 104.9h-1.4M395.8 131.0v2.4M359.5 103.6h-2.4M406.7 131.0v1.4M359.5 95.4h-1.4M413.0 131.0v1.4M359.5 90.6h-1.4M417.6 131.0v1.4M359.5 87.1h-1.4M421.1 131.0v1.4M359.5 84.5h-1.4M424.0 131.0v1.4M359.5 82.3h-1.4M426.4 131.0v1.4M359.5 80.5h-1.4M428.5 131.0v1.4M359.5 78.9h-1.4M430.3 131.0v1.4M359.5 77.5h-1.4M432.0 131.0v2.4M359.5 76.2h-2.4M442.9 131.0v1.4M359.5 68.0h-1.4M449.3 131.0v1.4M359.5 63.2h-1.4M453.8 131.0v1.4M359.5 59.8h-1.4M457.3 131.0v1.4M359.5 57.1h-1.4M460.2 131.0v1.4M359.5 54.9h-1.4M462.6 131.0v1.4M359.5 53.1h-1.4M464.7 131.0v1.4M359.5 51.5h-1.4M466.6 131.0v1.4M359.5 50.1h-1.4M468.2 131.0v2.4M359.5 48.9h-2.4M479.2 131.0v1.4M359.5 40.6h-1.4M485.5 131.0v1.4M359.5 35.8h-1.4M490.1 131.0v1.4M359.5 32.4h-1.4M493.6 131.0v1.4M359.5 29.7h-1.4M496.5 131.0v1.4M359.5 27.6h-1.4M498.9 131.0v1.4M359.5 25.7h-1.4M501.0 131.0v1.4M359.5 24.2h-1.4M502.8 131.0v1.4M359.5 22.8h-1.4M504.5 131.0v2.4M359.5 21.5h-2.4" stroke="#000" stroke-width="0.8" fill="none"/>
<path d="M359.3 131.6V21.3H505.3" stroke="#000" stroke-width="2" fill="none"/>
<text x="471.8" y="44.4" font-size="10.2" font-weight="bold">2.8%*</text>
<text x="360.9" y="142.2" font-size="6.4" text-anchor="middle">10<tspan dy="-2.6" font-size="4.608">0</tspan></text>
<text x="396.6" y="142.2" font-size="6.4" text-anchor="middle">10<tspan dy="-2.6" font-size="4.608">1</tspan></text>
<text x="432.9" y="142.2" font-size="6.4" text-anchor="middle">10<tspan dy="-2.6" font-size="4.608">2</tspan></text>
<text x="469.1" y="142.2" font-size="6.4" text-anchor="middle">10<tspan dy="-2.6" font-size="4.608">3</tspan></text>
<text x="505.4" y="142.2" font-size="6.4" text-anchor="middle">10<tspan dy="-2.6" font-size="4.608">4</tspan></text>
<text x="-1" y="187" font-size="15.2" font-weight="bold">B</text>
<text x="20.2" y="332.4" font-size="11.5" transform="rotate(-90 20.2 332.4)">% NLV-positive CD8</text>
<text x="15.4" y="224" font-size="7.4" transform="rotate(-90 15.4 224)">+</text>
<text x="20.2" y="215" font-size="10.3" transform="rotate(-90 20.2 215)">cells</text>
<text x="47" y="339.2" font-size="10.4" text-anchor="end">0</text>
<line x1="46.5" y1="335.5" x2="49.5" y2="335.5" stroke="#000" stroke-width="1.2"/>
<text x="47" y="292.5" font-size="10.4" text-anchor="end">50</text>
<line x1="46.5" y1="288.8" x2="49.5" y2="288.8" stroke="#000" stroke-width="1.2"/>
<text x="47" y="245.9" font-size="10.4" text-anchor="end">100</text>
<line x1="46.5" y1="242.2" x2="49.5" y2="242.2" stroke="#000" stroke-width="1.2"/>
<text x="47" y="199.2" font-size="10.4" text-anchor="end">150</text>
<line x1="46.5" y1="195.5" x2="49.5" y2="195.5" stroke="#000" stroke-width="1.2"/>
<rect x="56.8" y="242.2" width="14.2" height="93.3" fill="#fff" stroke="#000" stroke-width="1.7"/>
<rect x="71.0" y="242.2" width="14.2" height="93.3" fill="url(#hatch)" stroke="#000" stroke-width="1.7"/>
<rect x="85.2" y="242.2" width="14.2" height="93.3" fill="#000" stroke="#000" stroke-width="1.7"/>
<line x1="78.3" y1="335.5" x2="78.3" y2="338.9" stroke="#000" stroke-width="1.4"/>
<text x="81.7" y="347.0" font-size="11.6" text-anchor="end" transform="rotate(-45 81.7 347.0)">PBMC</text>
<rect x="112.4" y="287.0" width="14.2" height="48.5" fill="#fff" stroke="#000" stroke-width="1.7"/>
<rect x="126.6" y="298.2" width="14.2" height="37.3" fill="url(#hatch)" stroke="#000" stroke-width="1.7"/>
<rect x="140.8" y="298.2" width="14.2" height="37.3" fill="#000" stroke="#000" stroke-width="1.7"/>
<line x1="134" y1="335.5" x2="134" y2="338.9" stroke="#000" stroke-width="1.4"/>
<text x="137.4" y="347.0" font-size="11.6" text-anchor="end" transform="rotate(-45 137.4 347.0)">MLR</text>
<rect x="168.4" y="274.8" width="14.2" height="60.7" fill="#fff" stroke="#000" stroke-width="1.7"/>
<rect x="182.6" y="270.2" width="14.2" height="65.3" fill="url(#hatch)" stroke="#000" stroke-width="1.7"/>
<rect x="196.8" y="236.6" width="14.2" height="98.9" fill="#000" stroke="#000" stroke-width="1.7"/>
<line x1="190.3" y1="335.5" x2="190.3" y2="338.9" stroke="#000" stroke-width="1.4"/>
<text x="193.70000000000002" y="347.0" font-size="11.6" text-anchor="end" transform="rotate(-45 193.70000000000002 347.0)">MLR + 17-DMAG</text>
<path d="M49.5 194.5V335.5H218.4" fill="none" stroke="#000" stroke-width="1.9"/>
<rect x="115.9" y="199.70000000000002" width="7.4" height="10.4" fill="#fff" stroke="#000" stroke-width="1.9"/>
<text x="126.8" y="209.0" font-size="11.2">donor 1</text>
<rect x="115.9" y="215.70000000000002" width="7.4" height="10.4" fill="url(#hatch)" stroke="#000" stroke-width="1.9"/>
<text x="126.8" y="225.0" font-size="11.2">donor 2</text>
<rect x="115.9" y="231.70000000000002" width="7.4" height="10.4" fill="#000" stroke="#000" stroke-width="1.9"/>
<text x="126.8" y="241.0" font-size="11.2">donor 3</text>
<text x="219.4" y="187" font-size="15.2" font-weight="bold">C</text>
<text x="250.6" y="294.8" font-size="11.7" transform="rotate(-90 250.6 294.8)">IFN-gamma (pg/ml)</text>
<text x="269.6" y="340.4" font-size="10.8" text-anchor="end">10</text>
<text x="269.4" y="336.2" font-size="7.4">0</text>
<line x1="274.5" y1="336.8" x2="277.2" y2="336.8" stroke="#000" stroke-width="1.2"/>
<text x="269.6" y="304.2" font-size="10.8" text-anchor="end">10</text>
<text x="269.4" y="300.0" font-size="7.4">1</text>
<line x1="274.5" y1="300.6" x2="277.2" y2="300.6" stroke="#000" stroke-width="1.2"/>
<text x="269.6" y="268.1" font-size="10.8" text-anchor="end">10</text>
<text x="269.4" y="263.9" font-size="7.4">2</text>
<line x1="274.5" y1="264.5" x2="277.2" y2="264.5" stroke="#000" stroke-width="1.2"/>
<text x="269.6" y="231.9" font-size="10.8" text-anchor="end">10</text>
<text x="269.4" y="227.8" font-size="7.4">3</text>
<line x1="274.5" y1="228.3" x2="277.2" y2="228.3" stroke="#000" stroke-width="1.2"/>
<text x="269.6" y="195.8" font-size="10.8" text-anchor="end">10</text>
<text x="269.4" y="191.6" font-size="7.4">4</text>
<line x1="274.5" y1="192.2" x2="277.2" y2="192.2" stroke="#000" stroke-width="1.2"/>
<path d="M277.2 190.7V336.8H496" fill="none" stroke="#000" stroke-width="1.9"/>
<line x1="278.2" y1="266.2" x2="516" y2="266.2" stroke="#000" stroke-width="1.9" stroke-dasharray="6.6 2.4"/>
<line x1="331.3" y1="243.8" x2="439.7" y2="237.6" stroke="#0a0a0a" stroke-width="2.1"/>
<circle cx="331.3" cy="243.8" r="2.3" fill="#0a0a0a"/><circle cx="439.7" cy="237.6" r="2.3" fill="#0a0a0a"/>
<line x1="331.3" y1="246.2" x2="439.7" y2="243.2" stroke="#0a0a0a" stroke-width="2.1"/>
<circle cx="331.3" cy="246.2" r="2.3" fill="#0a0a0a"/><circle cx="439.7" cy="243.2" r="2.3" fill="#0a0a0a"/>
<line x1="331.3" y1="248.2" x2="439.7" y2="245.4" stroke="#0a0a0a" stroke-width="2.1"/>
<circle cx="331.3" cy="248.2" r="2.3" fill="#0a0a0a"/><circle cx="439.7" cy="245.4" r="2.3" fill="#0a0a0a"/>
<line x1="331.3" y1="250.4" x2="439.7" y2="251.0" stroke="#0a0a0a" stroke-width="2.1"/>
<circle cx="331.3" cy="250.4" r="2.3" fill="#0a0a0a"/><circle cx="439.7" cy="251.0" r="2.3" fill="#0a0a0a"/>
<line x1="331.3" y1="226.4" x2="439.7" y2="286.6" stroke="#0a0a0a" stroke-width="2.1"/>
<circle cx="331.3" cy="226.4" r="2.3" fill="#0a0a0a"/><circle cx="439.7" cy="286.6" r="2.3" fill="#0a0a0a"/>
<line x1="331.3" y1="227.0" x2="439.7" y2="294.5" stroke="#0a0a0a" stroke-width="2.1"/>
<circle cx="331.3" cy="227.0" r="2.3" fill="#0a0a0a"/><circle cx="439.7" cy="294.5" r="2.3" fill="#0a0a0a"/>
<line x1="331.3" y1="251.6" x2="439.7" y2="280.8" stroke="#0a0a0a" stroke-width="2.1"/>
<circle cx="331.3" cy="251.6" r="2.3" fill="#0a0a0a"/><circle cx="439.7" cy="280.8" r="2.3" fill="#0a0a0a"/>
<line x1="331.3" y1="230.4" x2="439.7" y2="336.6" stroke="#0a0a0a" stroke-width="2.1"/>
<circle cx="331.3" cy="230.4" r="2.3" fill="#0a0a0a"/><circle cx="439.7" cy="336.6" r="2.3" fill="#0a0a0a"/>
<line x1="331.3" y1="336.8" x2="331.3" y2="339.8" stroke="#000" stroke-width="1.3"/>
<line x1="439.7" y1="336.8" x2="439.7" y2="339.8" stroke="#000" stroke-width="1.3"/>
<text x="338.5" y="348.9" font-size="11.6" text-anchor="middle">MLR</text>
<text x="467.3" y="348.9" font-size="11.65" font-weight="bold" text-anchor="middle">MLR + 17-DMAG</text>
<text x="453" y="248.9" font-size="11.6">CMV pp65</text>
<text x="455.6" y="292.8" font-size="11.3">allo DC</text>
<text x="457.8" y="305.2" font-size="9.8">P&lt;0.05</text>
</svg></body></html>
